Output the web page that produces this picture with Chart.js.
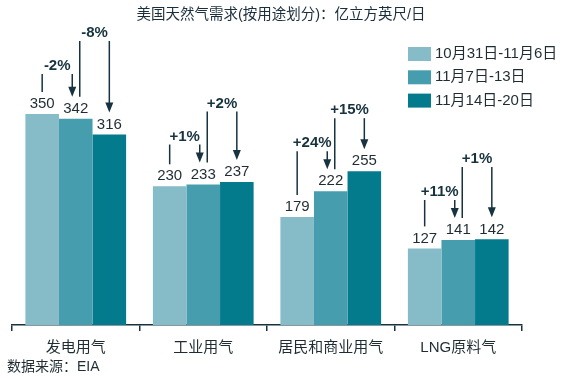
<!DOCTYPE html>
<html>
<head>
<meta charset="utf-8">
<script src="https://cdn.jsdelivr.net/npm/chart.js@4.4.0/dist/chart.umd.min.js"></script>
<style>
  html, body { margin: 0; padding: 0; background: #ffffff; }
  #wrap { width: 565px; height: 379px; position: relative; }
</style>
</head>
<body>
<div id="wrap"><canvas id="c" width="565" height="379"></canvas></div>
<script>
// ---- Data ----
const categories = ['发电用气', '工业用气', '居民和商业用气', 'LNG原料气'];
const seriesNames = ['10月31日-11月6日', '11月7日-13日', '11月14日-20日'];
const week1 = [350, 230, 179, 127];
const week2 = [342, 233, 222, 141];
const week3 = [316, 237, 255, 142];
const change12 = ['-2%', '+1%', '+24%', '+11%'];
const change23 = ['-8%', '+2%', '+15%', '+1%'];
const titleText = '美国天然气需求(按用途划分)：亿立方英尺/日';
const sourceText = '数据来源：EIA';

// ---- Styles ----
const FONT = "'Liberation Sans', 'Noto Sans CJK SC', Arial, sans-serif";
const colors = ['#85bcc8', '#469dae', '#047b8d'];
const inkDark = '#17333f';
const textColor = '#1f2d33';

const annotationPlugin = {
  id: 'annotations',
  afterDatasetsDraw(chart) {
    const ctx = chart.ctx;
    const metas = [0, 1, 2].map(i => chart.getDatasetMeta(i));
    ctx.save();
    // value labels
    ctx.font = '15px ' + FONT;
    ctx.fillStyle = textColor;
    ctx.textAlign = 'center';
    ctx.textBaseline = 'middle';
    metas.forEach((m, di) => {
      m.data.forEach((bar, i) => {
        const v = chart.data.datasets[di].data[i];
        ctx.fillText(String(v), bar.x, bar.y - 10);
      });
    });

    function arrowDown(x, y0, tip) {
      const headH = 10, headW = 4;
      ctx.beginPath();
      ctx.moveTo(x, y0);
      ctx.lineTo(x, tip - headH + 1);
      ctx.stroke();
      ctx.beginPath();
      ctx.moveTo(x - headW, tip - headH);
      ctx.lineTo(x + headW, tip - headH);
      ctx.lineTo(x, tip);
      ctx.closePath();
      ctx.fill();
    }
    function bracket(xL, xR, top, leftBottom, tip, label) {
      ctx.beginPath();
      ctx.moveTo(xL, top);
      ctx.lineTo(xL, leftBottom);
      ctx.stroke();
      arrowDown(xR, top, tip);
      ctx.font = 'bold 15px ' + FONT;
      ctx.textAlign = 'center';
      ctx.textBaseline = 'middle';
      ctx.fillText(label, (xL + xR) / 2, top - 8);
    }

    ctx.strokeStyle = inkDark;
    ctx.fillStyle = inkDark;
    ctx.lineWidth = 1.5;
    categories.forEach((c, i) => {
      const b1 = metas[0].data[i], b2 = metas[1].data[i], b3 = metas[2].data[i];
      const top1 = Math.min(b1.y, b2.y) - 40;
      const top2 = top1 - 33;
      bracket(b1.x, b2.x - 3.5, top1, b1.y - 22, b2.y - 22, change12[i]);
      bracket(b2.x + 4, b3.x, top2, b2.y - 22, b3.y - 22, change23[i]);
    });
    ctx.restore();
  },
  afterDraw(chart) {
    const ctx = chart.ctx;
    ctx.save();
    // title
    ctx.font = '14.5px ' + FONT;
    ctx.fillStyle = '#1a2e3b';
    ctx.textAlign = 'center';
    ctx.textBaseline = 'middle';
    ctx.fillText(titleText, 281, 15);
    // legend
    ctx.font = '15px ' + FONT;
    ctx.textAlign = 'left';
    seriesNames.forEach((name, i) => {
      const cy = 54 + i * 23.3;
      ctx.fillStyle = colors[i];
      ctx.fillRect(408, cy - 7, 23, 14);
      ctx.fillStyle = textColor;
      ctx.fillText(name, 435, cy);
    });
    // source
    ctx.font = '14px ' + FONT;
    ctx.fillStyle = textColor;
    ctx.textAlign = 'left';
    ctx.fillText(sourceText, 7, 367);
    ctx.restore();
  }
};

const seriesValues = [week1, week2, week3];
new Chart(document.getElementById('c'), {
  type: 'bar',
  data: {
    labels: categories,
    datasets: seriesNames.map((name, i) => ({
      label: name,
      data: seriesValues[i],
      backgroundColor: colors[i],
      borderWidth: 0,
      categoryPercentage: 0.79,
      barPercentage: 1.0
    }))
  },
  options: {
    responsive: false,
    animation: false,
    devicePixelRatio: 1,
    layout: { padding: { left: 12, right: 43, top: 23.5, bottom: 0 } },
    plugins: {
      legend: { display: false },
      title: { display: false },
      tooltip: { enabled: false }
    },
    scales: {
      x: {
        afterFit(scale) { scale.height = 54; },
        border: { display: true, color: inkDark, width: 1.5 },
        grid: { display: true, drawOnChartArea: false, drawTicks: true, tickLength: 6, color: inkDark, lineWidth: 1.5, offset: true },
        ticks: { color: textColor, font: { family: FONT, size: 15 }, padding: 8, maxRotation: 0 }
      },
      y: {
        display: false,
        min: 0,
        max: 500
      }
    }
  },
  plugins: [annotationPlugin]
});
</script>
</body>
</html>
